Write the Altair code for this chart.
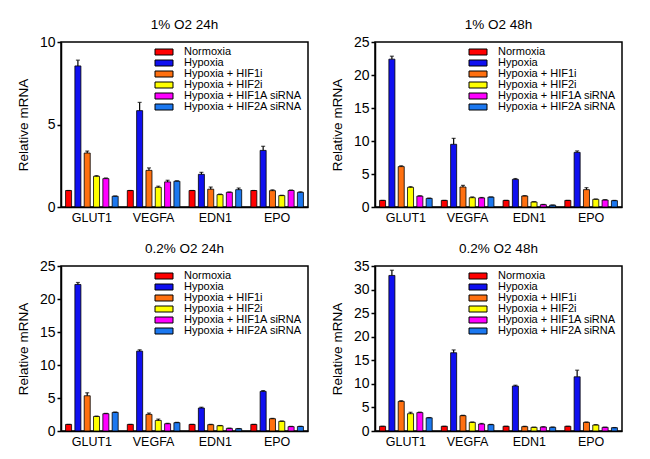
import altair as alt
import pandas as pd

genes = ["GLUT1", "VEGFA", "EDN1", "EPO"]
treatments = ["Normoxia", "Hypoxia", "Hypoxia + HIF1i", "Hypoxia + HIF2i",
              "Hypoxia + HIF1A siRNA", "Hypoxia + HIF2A siRNA"]
colors = ["#FF0000", "#1010F0", "#FF7010", "#FFFF00", "#FF00FF", "#1C78F0"]

titles = ["1% O2 24h", "1% O2 48h", "0.2% O2 24h", "0.2% O2 48h"]
y_max = [10, 25, 25, 35]
y_ticks = [[0, 5, 10], [0, 5, 10, 15, 20, 25], [0, 5, 10, 15, 20, 25],
           [0, 5, 10, 15, 20, 25, 30, 35]]

# mean values, one row per gene (GLUT1, VEGFA, EDN1, EPO), one column per treatment
mean_1_24 = [[1.0, 8.55, 3.27, 1.86, 1.72, 0.65],
             [1.0, 5.84, 2.22, 1.19, 1.52, 1.56],
             [1.0, 1.98, 1.08, 0.75, 0.89, 1.05],
             [1.0, 3.43, 0.99, 0.69, 1.00, 0.89]]
err_1_24 = [[0, 0.35, 0.12, 0.04, 0.04, 0.02],
            [0, 0.50, 0.15, 0.07, 0.10, 0.03],
            [0, 0.12, 0.13, 0.03, 0.02, 0.10],
            [0, 0.25, 0.05, 0.02, 0.03, 0.03]]

mean_1_48 = [[1.0, 22.4, 6.12, 2.98, 1.65, 1.30],
             [1.0, 9.5, 3.03, 1.41, 1.38, 1.50],
             [1.0, 4.19, 1.67, 0.76, 0.35, 0.28],
             [1.0, 8.28, 2.63, 1.16, 1.06, 0.96]]
err_1_48 = [[0, 0.45, 0.12, 0.10, 0.05, 0.05],
            [0, 0.90, 0.25, 0.12, 0.06, 0.03],
            [0, 0.12, 0.05, 0.05, 0.04, 0.02],
            [0, 0.22, 0.30, 0.06, 0.05, 0.04]]

mean_02_24 = [[1.0, 22.2, 5.34, 2.20, 2.62, 2.82],
              [1.0, 12.1, 2.52, 1.60, 1.10, 1.26],
              [1.0, 3.48, 0.96, 0.80, 0.40, 0.35],
              [1.0, 6.00, 1.86, 1.46, 0.66, 0.68]]
err_02_24 = [[0, 0.30, 0.45, 0.06, 0.05, 0.05],
             [0, 0.20, 0.20, 0.20, 0.06, 0.05],
             [0, 0.12, 0.05, 0.03, 0.03, 0.02],
             [0, 0.12, 0.05, 0.06, 0.04, 0.04]]

mean_02_48 = [[1.0, 33.0, 6.28, 3.67, 3.90, 2.80],
              [1.0, 16.6, 3.25, 1.83, 1.48, 1.34],
              [1.0, 9.53, 0.92, 0.78, 0.85, 0.78],
              [1.0, 11.5, 1.83, 1.27, 0.78, 0.70]]
err_02_48 = [[0, 1.10, 0.15, 0.30, 0.10, 0.05],
             [0, 0.60, 0.08, 0.08, 0.12, 0.06],
             [0, 0.18, 0.08, 0.03, 0.05, 0.07],
             [0, 1.40, 0.08, 0.08, 0.03, 0.03]]

means = [mean_1_24, mean_1_48, mean_02_24, mean_02_48]
errs = [err_1_24, err_1_48, err_02_24, err_02_48]

FONT = "Liberation Sans"
swatch = "M-3,-1L3,-1L3,1L-3,1Z"


def panel(title, means_g, errs_g, ymax, ticks):
    rows = []
    for gi, g in enumerate(genes):
        for ti, t in enumerate(treatments):
            m = means_g[gi][ti]
            e = errs_g[gi][ti]
            rows.append({"gene": g, "treatment": t, "mean": m, "upper": m + e})
    df = pd.DataFrame(rows)

    x = alt.X("gene:N", sort=genes,
              scale=alt.Scale(paddingInner=0, paddingOuter=0),
              axis=alt.Axis(title=None, ticks=False, labelAngle=0,
                            labelFontSize=12.5, labelColor="black",
                            labelPadding=4, domainColor="black", domainWidth=1.5))
    xo = alt.XOffset("treatment:N", sort=treatments,
                     scale=alt.Scale(paddingInner=0.355, paddingOuter=0.49))
    y_scale = alt.Scale(domain=[0, ymax], nice=False, zero=True)
    y_axis = alt.Axis(values=ticks, title="Relative mRNA", grid=False,
                      tickSize=4, tickColor="black", tickWidth=1.5,
                      domainColor="black", domainWidth=1.5,
                      labelFontSize=14, labelColor="black", labelPadding=2,
                      titleFontSize=13.5, titleFontWeight="normal",
                      titleColor="black", titlePadding=9)

    bars = alt.Chart(df).mark_bar(stroke="black", strokeWidth=0.8, opacity=1).encode(
        x=x, xOffset=xo,
        y=alt.Y("mean:Q", scale=y_scale, axis=y_axis),
        color=alt.Color("treatment:N", sort=treatments,
                        scale=alt.Scale(domain=treatments, range=colors),
                        legend=alt.Legend(title=None, orient="none",
                                          legendX=97.5, legendY=4.5,
                                          symbolType=swatch, symbolSize=36,
                                          symbolStrokeColor="black",
                                          symbolStrokeWidth=1,
                                          labelFontSize=11, labelColor="black",
                                          labelOffset=14.5, rowPadding=-1,
                                          padding=0, labelLimit=300)),
    )
    rule = alt.Chart(df).mark_rule(color="black", strokeWidth=1.2).encode(
        x=x, xOffset=xo, y=alt.Y("mean:Q", scale=y_scale, axis=y_axis), y2="upper:Q")
    cap = alt.Chart(df).mark_tick(color="black", thickness=1.2, size=4).encode(
        x=x, xOffset=xo, y=alt.Y("upper:Q", scale=y_scale, axis=y_axis))
    return alt.layer(bars, rule, cap).properties(
        width=247, height=165,
        title=alt.Title(title, fontSize=13.5, fontWeight="normal", color="black",
                        font=FONT, offset=4))


charts = [panel(titles[i], means[i], errs[i], y_max[i], y_ticks[i]) for i in range(4)]

chart = alt.concat(*charts, columns=2, spacing={"row": 15, "column": 20}).resolve_legend(
    color="independent").resolve_scale(y="independent").properties(
    padding={"left": 7, "top": 8, "right": 0, "bottom": 0}
).configure(font=FONT).configure_view(stroke="black", strokeWidth=1.5)

chart.save("out.html", embed_options={"renderer": "svg", "actions": False})
